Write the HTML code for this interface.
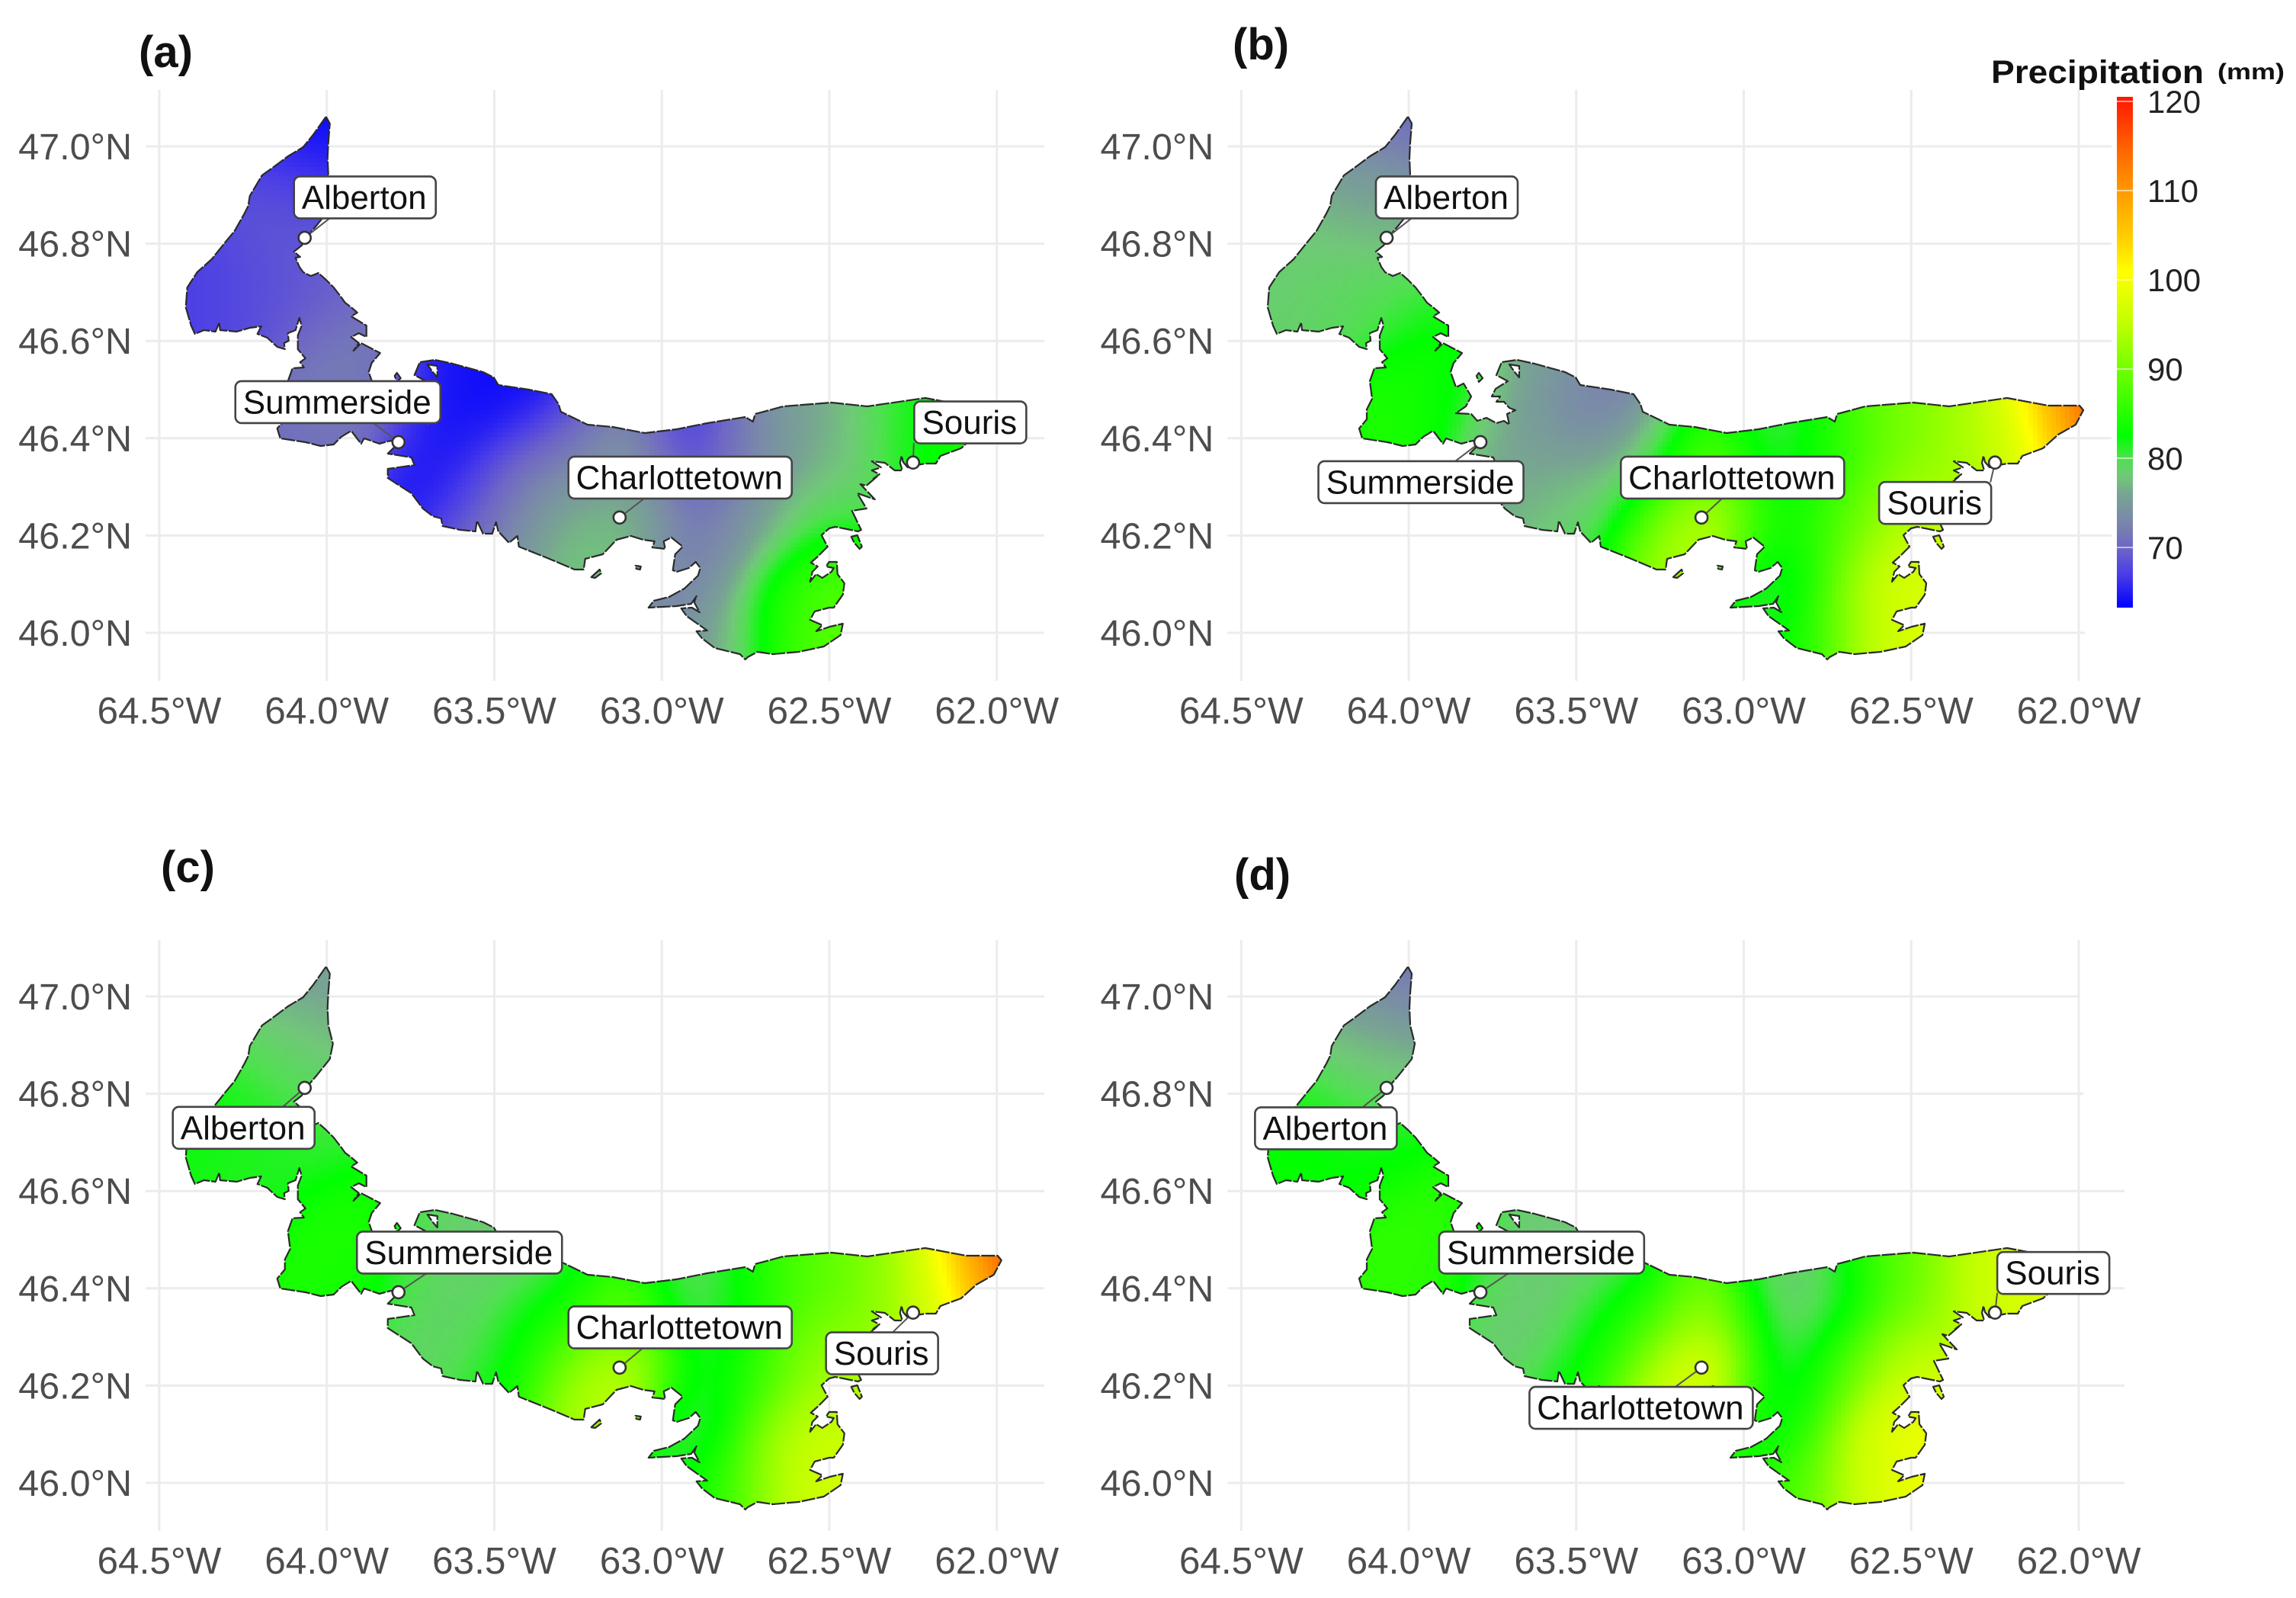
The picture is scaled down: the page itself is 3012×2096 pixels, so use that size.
<!DOCTYPE html>
<html>
<head>
<meta charset="utf-8">
<title>Precipitation maps of Prince Edward Island</title>
<style>
html,body{margin:0;padding:0;background:#fff}
svg{display:block}
text{font-family:"Liberation Sans",sans-serif}
</style>
</head>
<body>
<svg id="figure" xmlns="http://www.w3.org/2000/svg" width="3012" height="2096" viewBox="0 0 3012 2096">
<rect width="3012" height="2096" fill="#fff"/>
<g id="panels"></g>
<g id="titles" font-weight="700" font-size="58" fill="#111">
<text x="182" y="88">(a)</text>
<text x="1617" y="78">(b)</text>
<text x="211" y="1157">(c)</text>
<text x="1619" y="1167">(d)</text>
</g>
<g id="legend">
<text x="2612" y="109" font-size="43" font-weight="700" fill="#111" textLength="279" lengthAdjust="spacingAndGlyphs">Precipitation</text>
<text x="2909" y="104" font-size="30" font-weight="700" fill="#111" textLength="88" lengthAdjust="spacingAndGlyphs">(mm)</text>
</g>
</svg>
<script>
/* ---------- chart data ---------- */
const lonTicks = [-64.5, -64, -63.5, -63, -62.5, -62];
const latTicks = [47, 46.8, 46.6, 46.4, 46.2, 46];
const lonTickLabels = ['64.5°W', '64.0°W', '63.5°W', '63.0°W', '62.5°W', '62.0°W'];
const latTickLabels = ['47.0°N', '46.8°N', '46.6°N', '46.4°N', '46.2°N', '46.0°N'];
const legendTicks = [70, 80, 90, 100, 110, 120];
const legendRange = [63.3, 120.4];

const cityNames = ['Alberton', 'Summerside', 'Charlottetown', 'Souris'];
const cityLon = [-64.066, -63.786, -63.126, -62.25];
const cityLat = [46.812, 46.392, 46.237, 46.35];

const sampleLon = [-64.00,-64.07,-64.14,-64.05,-64.30,-64.16,-64.34,-64.20,-64.02,-63.95,-64.05,-63.91,-64.09,-63.66,-63.70,-63.55,-63.41,-63.57,-63.39,-63.48,-63.25,-63.25,-63.09,-63.11,-62.93,-62.86,-62.91,-62.82,-62.73,-62.70,-62.66,-62.52,-62.52,-62.57,-62.32,-62.18,-62.09,-62.01,-62.52];
const sampleLat = [47.03,46.94,46.84,46.84,46.72,46.70,46.64,46.66,46.69,46.56,46.47,46.47,46.41,46.50,46.37,46.47,46.45,46.31,46.33,46.25,46.37,46.22,46.34,46.23,46.37,46.25,46.11,46.00,46.37,46.22,46.03,46.42,46.26,46.00,46.42,46.40,46.42,46.44,46.12];

/* precipitation (mm) at the sample locations for each panel */
const precipA = [63.5,66,69,69,67,68,67,69,70,72,72,72,70,65,65,63.5,63.5,63.5,74,74,71,78,76,78,65,71,72,75,73,76,83,76,79,90,80,83,84,84,88];
const precipB = [70,74,77,77,78,79,78.5,80,81,83.5,85,82.5,84,77,76,73,71,76,76,80,80,92,90,98,78,82.5,80,82,85,89,92,90,94,99,94,93,100,125,98];
const precipC = [75,77,81,78,82.5,83,82,80,80,85,84,84,84,79,80,78,78,77,84,83,83,93,90,98,77,80,79,84,84,87,93,88,93,98,92,93,102,125,96];
const precipD = [71,75,79,78,82,81,83.5,83,82.5,86,86,85,85,78,79,78,78,76,84,85,85,96,96,100,76,78,81,87,80,90,95,88,95,100,95,97,98,98,100];

/* colour scale */
const colorStopValues = [63.3,67,70,73,76,78,80,82.5,90,95,101,105,110,115,120.4];
const colorStopHexes = ['#0000ff','#4a3ce8','#6e66c6','#7a88aa','#78a492','#70c878','#50e050','#00ff00','#70ff00','#c0ff00','#ffff00','#ffcc00','#ff9a00','#ff6000','#ff1800'];

/* coastline trace: map grid units, origin 64°W 47°N, 1 unit = 1/439.5° lon, 1/638° lat */
const coastTrace = [[-1,-39],[4,-30],[2,-5],[1,15],[2,38],[8,62],[4,82],[-12,102],[-23,115],[-27,122],[-33,130],[-43,138],[-35,145],[-41,146],[-36,158],[-31,165],[-21,170],[-11,166],[-1,175],[9,185],[19,198],[24,205],[32,211],[40,218],[32,223],[52,235],[52,250],[42,245],[32,250],[42,258],[35,268],[45,258],[70,271],[59,284],[55,296],[62,316],[72,311],[82,328],[75,341],[62,350],[82,351],[90,360],[102,356],[115,363],[125,360],[132,365],[129,351],[140,346],[132,343],[125,335],[115,335],[120,328],[109,328],[114,318],[130,308],[115,300],[122,283],[142,280],[165,285],[205,296],[219,303],[225,313],[265,319],[295,325],[304,338],[307,348],[342,365],[375,368],[417,376],[459,371],[499,363],[549,355],[559,361],[562,351],[599,341],[662,336],[709,341],[785,330],[839,340],[880,340],[885,346],[875,365],[852,378],[832,396],[805,406],[799,416],[785,416],[774,418],[762,421],[756,414],[754,406],[752,415],[755,425],[745,425],[732,415],[715,413],[727,421],[715,425],[725,430],[717,436],[723,432],[708,445],[700,443],[719,463],[696,455],[708,475],[689,478],[701,503],[697,505],[667,499],[659,501],[649,510],[657,525],[644,538],[635,546],[644,551],[637,558],[634,571],[642,561],[650,566],[662,558],[665,553],[655,551],[659,545],[669,545],[670,561],[679,573],[677,588],[665,605],[659,605],[640,610],[634,621],[650,628],[642,636],[660,630],[677,626],[674,641],[652,656],[619,663],[585,666],[565,663],[552,670],[549,673],[542,666],[509,658],[492,645],[485,636],[499,635],[489,628],[472,616],[465,606],[479,605],[489,611],[482,598],[485,590],[478,600],[459,603],[422,605],[429,596],[449,591],[469,580],[487,563],[490,553],[484,545],[475,553],[459,558],[454,556],[457,535],[467,525],[452,513],[442,518],[444,528],[427,526],[430,518],[415,516],[399,511],[380,516],[362,535],[339,541],[337,555],[325,555],[292,541],[252,525],[250,511],[239,520],[225,505],[222,493],[217,508],[205,508],[197,491],[195,505],[175,503],[152,498],[150,488],[139,485],[126,475],[111,455],[80,435],[80,423],[115,418],[111,408],[80,403],[92,391],[84,386],[69,390],[49,383],[45,390],[32,373],[19,381],[9,391],[-8,393],[-28,388],[-61,383],[-65,370],[-55,358],[-55,345],[-48,331],[-51,308],[-45,291],[-30,290],[-35,283],[-28,278],[-38,266],[-38,248],[-33,235],[-36,225],[-41,241],[-51,245],[-50,255],[-56,258],[-55,266],[-65,263],[-78,251],[-91,246],[-86,236],[-101,238],[-118,243],[-140,241],[-141,231],[-146,243],[-161,241],[-173,246],[-178,235],[-185,211],[-183,185],[-170,165],[-151,148],[-135,128],[-121,111],[-108,88],[-103,78],[-101,65],[-85,38],[-71,28],[-51,13],[-31,1],[-18,-15]];
const extraCoastTraces = [
  [[92,297],[97,304],[92,309],[89,301]],
  [[347,565],[358,555],[360,560],[352,566]],
  [[405,550],[412,551],[411,555],[406,554]],
  [[688,512],[696,510],[702,525],[699,528],[692,520]],
  [[132,286],[145,288],[145,303],[139,296]]
];

/* panel layout: label offsets from the city dot, and leader-line ends */
const panelKeys = ['a', 'b', 'c', 'd'];
const panelShiftX = [0, 1419.3, 0, 1419.3];
const panelShiftY = [0, 0, 1115, 1115];
const panelValues = [precipA, precipB, precipC, precipD];
const gridRightEnds = [
  [1370,1370,1370,1370,1370,1370],
  [2770,2770,2770,2770,2770,2735],
  [1370,1370,1370,1370,1370,1370],
  [2726,2733,2787,2787,2787,2787]
];
const labelOffsets = [
  [[79,-53],[-79.5,-52.5],[79.4,-52.4],[75,-52.6]],
  [[79,-53],[-78,52.5],[40.7,-52.4],[-78.5,53]],
  [[-80,52.4],[80,-52],[79.4,-52.7],[-40.7,53.4]],
  [[-79.6,53],[80.3,-52],[-79.2,52.8],[76.5,-52]]
];
const leaderEnds = [
  [[32,-25],[-34,-26],[31,-24],[1,-26]],
  [[32,-25],[-33,25],[26,-24],[-6,26]],
  [[-29,25],[37,-25],[31,-26],[-27,26]],
  [[-31,25],[37,-25],[-34,25],[3,-26]]
];
const labelWidths = [186, 269, 293, 147];
const labelHeight = 55;

/* ---------- scales ---------- */
const pxPerLon = 439.5, pxPerLat = 638, originX = 428.7, originY = 192;
function xScale(lon, shift) { return originX + (lon + 64) * pxPerLon + shift; }
function yScale(lat, shift) { return originY + (47 - lat) * pxPerLat + shift; }
function traceLon(u) { return -64 + u / pxPerLon; }
function traceLat(v) { return 47 - v / pxPerLat; }
function legendY(value) { return 718 - (value - 70) * 11.7; }

const SVGNS = 'http://www.w3.org/2000/svg';
function svgEl(tag, attrs, parent) {
  const el = document.createElementNS(SVGNS, tag);
  for (const k in attrs) el.setAttribute(k, attrs[k]);
  parent.appendChild(el);
  return el;
}

function hexRgb(h) { return [parseInt(h.slice(1,3),16), parseInt(h.slice(3,5),16), parseInt(h.slice(5,7),16)]; }
const stopRgb = colorStopHexes.map(hexRgb);
function colorFor(value) {
  const n = colorStopValues.length;
  if (value <= colorStopValues[0]) return 'rgb(' + stopRgb[0].join(',') + ')';
  if (value >= colorStopValues[n - 1]) return 'rgb(' + stopRgb[n - 1].join(',') + ')';
  let i = 0;
  while (value > colorStopValues[i + 1]) i++;
  const t = (value - colorStopValues[i]) / (colorStopValues[i + 1] - colorStopValues[i]);
  const a = stopRgb[i], b = stopRgb[i + 1];
  return 'rgb(' + Math.round(a[0] + (b[0] - a[0]) * t) + ',' + Math.round(a[1] + (b[1] - a[1]) * t) + ',' + Math.round(a[2] + (b[2] - a[2]) * t) + ')';
}

function fieldAt(lon, lat, values) {
  const sigma2 = 2 * 50 * 50;
  let sw = 0, sv = 0;
  for (let i = 0; i < sampleLon.length; i++) {
    const dx = (lon - sampleLon[i]) * pxPerLon, dy = (lat - sampleLat[i]) * pxPerLat;
    const w = Math.exp(-(dx * dx + dy * dy) / sigma2) + 1e-9;
    sw += w; sv += w * values[i];
  }
  return sv / sw;
}

function pointInside(u, v, poly) {
  let inside = false;
  for (let i = 0, j = poly.length - 1; i < poly.length; j = i++) {
    const a = poly[i], b = poly[j];
    if ((a[1] > v) !== (b[1] > v) && u < (b[0] - a[0]) * (v - a[1]) / (b[1] - a[1]) + a[0]) inside = !inside;
  }
  return inside;
}

/* cells of the heat field that touch land */
const cellSize = 6;
const landCells = (function () {
  const cols = Math.ceil(1090 / cellSize), rows = Math.ceil(730 / cellSize);
  const polys = [coastTrace].concat(extraCoastTraces.slice(0, 4));
  const mask = [];
  for (let r = 0; r < rows; r++) {
    mask.push([]);
    for (let c = 0; c < cols; c++) {
      const u = -195 + (c + 0.5) * cellSize, v = -45 + (r + 0.5) * cellSize;
      mask[r].push(polys.some(function (p) { return pointInside(u, v, p); }));
    }
  }
  const cells = [];
  for (let r = 0; r < rows; r++) {
    for (let c = 0; c < cols; c++) {
      let hit = false;
      for (let a = -1; a <= 1 && !hit; a++) {
        for (let b = -1; b <= 1 && !hit; b++) {
          if (mask[r + a] && mask[r + a][c + b]) hit = true;
        }
      }
      if (hit) cells.push([traceLon(-195 + (c + 0.5) * cellSize), traceLat(-45 + (r + 0.5) * cellSize)]);
    }
  }
  return cells;
})();

function coastPath(sx, sy) {
  const all = [coastTrace].concat(extraCoastTraces);
  return all.map(function (poly) {
    return 'M' + poly.map(function (p) {
      return xScale(traceLon(p[0]), sx).toFixed(1) + ' ' + yScale(traceLat(p[1]), sy).toFixed(1);
    }).join('L') + 'Z';
  }).join('');
}

/* ---------- draw panels ---------- */
const panelsRoot = document.getElementById('panels');
panelKeys.forEach(function (key, pi) {
  const sx = panelShiftX[pi], sy = panelShiftY[pi];
  const panel = svgEl('g', {}, panelsRoot);
  
  

  /* gridlines */
  const grid = svgEl('g', { stroke: '#ececec', 'stroke-width': 3 }, panel);
  
  
  lonTicks.forEach(function (lon) {
    const x = xScale(lon, sx);
    const line = svgEl('line', { x1: x, x2: x, y1: 118 + sy, y2: 893 + sy }, grid);
    
    
  });
  latTicks.forEach(function (lat, i) {
    const y = yScale(lat, sy);
    const line = svgEl('line', { x1: 191 + sx, x2: gridRightEnds[pi][i], y1: y, y2: y }, grid);
    
    
  });

  /* axis tick labels */
  lonTicks.forEach(function (lon, i) {
    const t = svgEl('text', { x: xScale(lon, sx), y: 949 + sy, 'text-anchor': 'middle', 'font-size': 49.5, fill: '#4d4d4d' }, panel);
    
    
    t.textContent = lonTickLabels[i];
  });
  latTicks.forEach(function (lat, i) {
    const t = svgEl('text', { x: 173 + sx, y: yScale(lat, sy) + 17, 'text-anchor': 'end', 'font-size': 48.5, fill: '#4d4d4d' }, panel);
    
    
    t.textContent = latTickLabels[i];
  });

  /* heat field clipped to the coast */
  const clip = svgEl('clipPath', { id: 'coast-clip-' + key }, panel);
  
  
  svgEl('path', { d: coastPath(sx, sy), 'clip-rule': 'evenodd' }, clip);
  const heat = svgEl('g', { 'clip-path': 'url(#coast-clip-' + key + ')', 'shape-rendering': 'crispEdges' }, panel);
  
  
  const values = panelValues[pi];
  const half = cellSize / 2;
  landCells.forEach(function (cell) {
    const rect = svgEl('rect', {
      x: (xScale(cell[0], sx) - half).toFixed(1),
      y: (yScale(cell[1], sy) - half).toFixed(1),
      width: cellSize + 0.6,
      height: cellSize + 0.6,
      fill: colorFor(fieldAt(cell[0], cell[1], values))
    }, heat);
    
    
  });

  /* coastline */
  const coast = svgEl('path', { d: coastPath(sx, sy), fill: 'none', stroke: '#2a2a2a', 'stroke-width': 2.2, 'stroke-dasharray': '18 2', 'stroke-linejoin': 'round' }, panel);
  
  

  /* city labels */
  cityNames.forEach(function (name, c) {
    const dotX = xScale(cityLon[c], sx), dotY = yScale(cityLat[c], sy);
    const leader = svgEl('line', { x1: dotX, y1: dotY, x2: dotX + leaderEnds[pi][c][0], y2: dotY + leaderEnds[pi][c][1], stroke: '#555', 'stroke-width': 2 }, panel);
    
    
    const cx = dotX + labelOffsets[pi][c][0], cy = dotY + labelOffsets[pi][c][1];
    const w = labelWidths[c];
    const box = svgEl('rect', { x: cx - w / 2, y: cy - labelHeight / 2, width: w, height: labelHeight, rx: 8, fill: '#fff', stroke: '#444', 'stroke-width': 2.6 }, panel);
    
    
    const text = svgEl('text', { x: cx - 1, y: cy + 15, 'text-anchor': 'middle', 'font-size': 44, fill: '#111' }, panel);
    
    
    text.textContent = name;
    const dot = svgEl('circle', { cx: dotX, cy: dotY, r: 8, fill: '#fff', stroke: '#333', 'stroke-width': 2.6 }, panel);
    
    
  });
});

/* ---------- legend ---------- */
const legendRoot = document.getElementById('legend');
const barX = 2777, barW = 21;
const barGroup = svgEl('g', { 'shape-rendering': 'crispEdges' }, legendRoot);


for (let v = legendRange[0]; v < legendRange[1]; v += 0.2) {
  const seg = svgEl('rect', { x: barX, y: (legendY(v + 0.2)).toFixed(1), width: barW, height: 3, fill: colorFor(v + 0.1) }, barGroup);
  
  
}
legendTicks.forEach(function (value) {
  const y = legendY(value);
  const tick = svgEl('line', { x1: barX, x2: barX + barW, y1: y, y2: y, stroke: '#fff', 'stroke-width': 1.6, opacity: 0.75 }, legendRoot);
  
  
  const label = svgEl('text', { x: 2817, y: y + 15, 'font-size': 42, fill: '#222' }, legendRoot);
  
  
  label.textContent = String(value);
});
</script>
</body>
</html>
